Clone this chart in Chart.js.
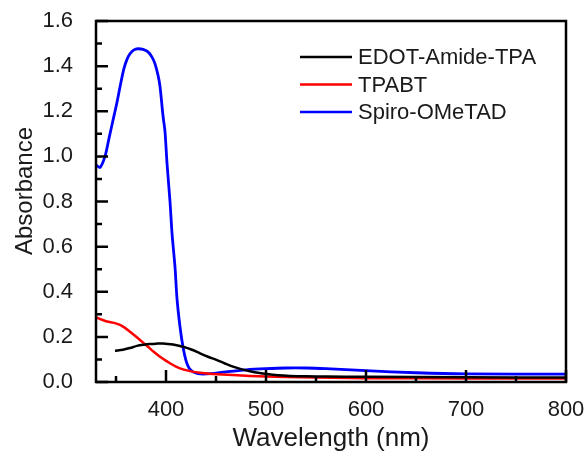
<!DOCTYPE html>
<html>
<head>
<meta charset="utf-8">
<script src="https://cdn.jsdelivr.net/npm/chart.js@4/dist/chart.umd.min.js"></script>
<style>
  html, body { margin: 0; padding: 0; background: #fff; }
  #wrap { width: 587px; height: 455px; }
</style>
</head>
<body>
<div id="wrap"><canvas id="c" width="587" height="455"></canvas></div>
<script>
// Absorption spectra, wavelength in nm
const edotWl  = [349, 357, 365, 371, 378, 384, 390, 397, 407, 417, 426, 434, 442, 451, 459, 467, 475, 484, 492, 501, 512, 524, 540, 560, 600, 700, 800];
const edotAbs = [0.139, 0.143, 0.152, 0.160, 0.165, 0.168, 0.170, 0.171, 0.166, 0.156, 0.143, 0.127, 0.112, 0.097, 0.082, 0.068, 0.057, 0.048, 0.041, 0.035, 0.030, 0.027, 0.025, 0.024, 0.023, 0.021, 0.020];

const tpabtWl  = [330, 336, 341, 348, 354, 359, 364, 369, 374, 382, 388, 394, 399, 404, 410, 417, 425, 434, 451, 484, 534, 600, 700, 800];
const tpabtAbs = [0.287, 0.276, 0.268, 0.262, 0.253, 0.240, 0.223, 0.205, 0.186, 0.156, 0.133, 0.112, 0.097, 0.083, 0.068, 0.056, 0.047, 0.041, 0.034, 0.027, 0.021, 0.017, 0.016, 0.015];

const spiroWl  = [330, 334, 339, 343, 347, 351, 355, 358, 361, 364, 368, 372, 377, 382, 386, 389, 392, 394, 397, 399, 401, 404, 406, 409, 411, 414, 417, 420, 423, 427, 432, 437, 445, 460, 480, 500, 520, 540, 560, 600, 650, 700, 800];
const spiroAbs = [0.962, 0.951, 1.0, 1.08, 1.16, 1.24, 1.33, 1.39, 1.43, 1.455, 1.472, 1.477, 1.474, 1.463, 1.44, 1.41, 1.36, 1.31, 1.18, 1.11, 0.97, 0.80, 0.66, 0.51, 0.37, 0.245, 0.155, 0.095, 0.062, 0.045, 0.037, 0.035, 0.037, 0.045, 0.054, 0.059, 0.062, 0.062, 0.059, 0.050, 0.041, 0.036, 0.035];

const seriesNames = ['EDOT-Amide-TPA', 'TPABT', 'Spiro-OMeTAD'];
const seriesColors = ['#000000', '#ff0000', '#0000ff'];

const xMajor = [400, 500, 600, 700, 800];
const xMinor = [350, 450, 550, 650, 750];
const yMajor = [0.0, 0.2, 0.4, 0.6, 0.8, 1.0, 1.2, 1.4, 1.6];
const yMinor = [0.1, 0.3, 0.5, 0.7, 0.9, 1.1, 1.3, 1.5];

const FONT = '"Liberation Sans", Arial, Helvetica, sans-serif';
const TEXT = '#1a1a1a';

function pts(xs, ys) { return xs.map((x, i) => ({ x: x, y: ys[i] })); }

// Frame, inward ticks, axis titles and legend
const decor = {
  id: 'decor',
  afterDatasetsDraw(chart) {
    const ctx = chart.ctx;
    const a = chart.chartArea;
    const xs = chart.scales.x, ys = chart.scales.y;
    ctx.save();
    ctx.strokeStyle = '#000';
    ctx.lineWidth = 2.5;
    ctx.lineCap = 'butt';
    ctx.beginPath();
    xMajor.forEach(v => { const p = xs.getPixelForValue(v); ctx.moveTo(p, a.bottom); ctx.lineTo(p, a.bottom - 12); });
    xMinor.forEach(v => { const p = xs.getPixelForValue(v); ctx.moveTo(p, a.bottom); ctx.lineTo(p, a.bottom - 6); });
    yMajor.forEach(v => { const p = ys.getPixelForValue(v); ctx.moveTo(a.left, p); ctx.lineTo(a.left + 12, p); });
    yMinor.forEach(v => { const p = ys.getPixelForValue(v); ctx.moveTo(a.left, p); ctx.lineTo(a.left + 6, p); });
    ctx.stroke();
    ctx.strokeRect(a.left, a.top, a.right - a.left, a.bottom - a.top);

    // axis titles
    ctx.fillStyle = TEXT;
    ctx.textAlign = 'center';
    ctx.textBaseline = 'middle';
    ctx.font = '26px ' + FONT;
    ctx.fillText('Wavelength (nm)', (a.left + a.right) / 2, 439);
    ctx.save();
    ctx.translate(25, 191);
    ctx.rotate(-Math.PI / 2);
    ctx.font = '24px ' + FONT;
    ctx.fillText('Absorbance', 0, 0);
    ctx.restore();

    // legend
    ctx.font = '22px ' + FONT;
    ctx.textAlign = 'left';
    chart.data.datasets.forEach((ds, i) => {
      const y = 57 + i * 27.5;
      ctx.strokeStyle = ds.borderColor;
      ctx.lineWidth = 2.5;
      ctx.beginPath();
      ctx.moveTo(300, y); ctx.lineTo(352, y);
      ctx.stroke();
      ctx.fillStyle = TEXT;
      ctx.fillText(ds.label, 358, y + 1);
    });
    ctx.restore();
  }
};

new Chart(document.getElementById('c'), {
  type: 'line',
  data: {
    datasets: [
      { label: seriesNames[0], data: pts(edotWl, edotAbs), borderColor: seriesColors[0] },
      { label: seriesNames[1], data: pts(tpabtWl, tpabtAbs), borderColor: seriesColors[1] },
      { label: seriesNames[2], data: pts(spiroWl, spiroAbs), borderColor: seriesColors[2], borderWidth: 2.8 }
    ]
  },
  options: {
    responsive: false,
    animation: false,
    devicePixelRatio: 1,
    layout: { padding: { top: 21, right: 21, left: 0, bottom: 0 } },
    elements: {
      point: { radius: 0 },
      line: { borderWidth: 2.5, tension: 0.3, fill: false }
    },
    plugins: { legend: { display: false }, tooltip: { enabled: false } },
    scales: {
      x: {
        type: 'linear', min: 330, max: 800,
        grid: { display: false },
        border: { display: false },
        afterBuildTicks: s => { s.ticks = xMajor.map(v => ({ value: v })); },
        afterFit: s => { s.height = 73; s.paddingLeft = 0; s.paddingRight = 0; },
        ticks: { font: { family: FONT, size: 22 }, color: TEXT, padding: 7, maxRotation: 0 }
      },
      y: {
        type: 'linear', min: 0, max: 1.6,
        grid: { display: false },
        border: { display: false },
        afterBuildTicks: s => { s.ticks = yMajor.map(v => ({ value: v })); },
        afterFit: s => { s.width = 96; s.paddingTop = 0; s.paddingBottom = 0; },
        ticks: { font: { family: FONT, size: 22 }, color: TEXT, padding: 15, callback: v => Number(v).toFixed(1) }
      }
    }
  },
  plugins: [decor]
});
</script>
</body>
</html>
